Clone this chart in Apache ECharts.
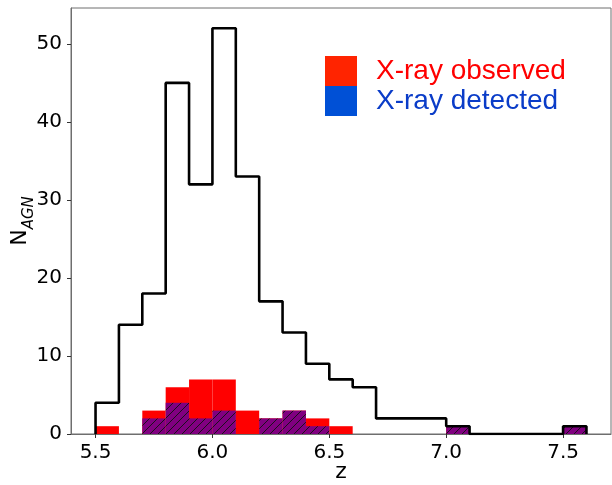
<!DOCTYPE html>
<html>
<head>
<meta charset="utf-8">
<script src="https://cdn.jsdelivr.net/npm/echarts@6/dist/echarts.min.js"></script>
<style>
  html, body { margin: 0; padding: 0; background: #fff; }
  #chart { width: 612px; height: 485px; }
</style>
</head>
<body>
<div id="chart"></div>
<script>
// left bin edges, bin width 0.1
const binEdges = [5.5, 5.6, 5.7, 5.8, 5.9, 6.0, 6.1, 6.2, 6.3, 6.4, 6.5, 6.6, 6.7, 6.8, 6.9, 7.0, 7.1, 7.2, 7.3, 7.4, 7.5];
const binWidth = 0.1;
const allCounts      = [4, 14, 18, 45, 32, 52, 33, 17, 13, 9, 7, 6, 2, 2, 2, 1, 0, 0, 0, 0, 1];
const observedCounts = [1, 0, 3, 6, 7, 7, 3, 2, 3, 2, 1, 0, 0, 0, 0, 1, 0, 0, 0, 0, 1];
const detectedCounts = [0, 0, 2, 4, 2, 3, 0, 2, 3, 1, 0, 0, 0, 0, 0, 1, 0, 0, 0, 0, 1];
const xTicks = [5.5, 6.0, 6.5, 7.0, 7.5];

const fontFam = 'DejaVu Sans';

// hatch "//" tile
function makeHatch() {
  const s = 8;
  const c = document.createElement('canvas');
  c.width = s; c.height = s;
  const ctx = c.getContext('2d');
  ctx.fillStyle = '#800080';
  ctx.fillRect(0, 0, s, s);
  ctx.strokeStyle = '#111';
  ctx.lineWidth = 0.9;
  for (let k = -s; k <= s; k += s) {
    ctx.beginPath();
    ctx.moveTo(k, s);
    ctx.lineTo(k + s, 0);
    ctx.stroke();
  }
  return { image: c, repeat: 'repeat' };
}
const hatch = makeHatch();

function binRenderer(fill) {
  return function (params, api) {
    const x0 = api.value(0);
    const h = api.value(1);
    if (!h) return;
    const p0 = api.coord([x0, h]);
    const p1 = api.coord([x0 + binWidth, 0]);
    return {
      type: 'rect',
      shape: { x: p0[0], y: p0[1], width: p1[0] - p0[0], height: p1[1] - p0[1] },
      style: { fill: fill }
    };
  };
}

const stepData = [[binEdges[0], 0]];
binEdges.forEach((x, i) => stepData.push([x, allCounts[i]]));
stepData.push([binEdges[binEdges.length - 1] + binWidth, 0]);

const chart = echarts.init(document.getElementById('chart'));
const option = {
  animation: false,
  grid: {
    left: 71, top: 8, right: 1, bottom: 51,
    containLabel: false,
    outerBoundsMode: 'none',
    show: true, borderColor: '#6e6e6e', borderWidth: 1
  },
  legend: {
    orient: 'vertical',
    left: 325, top: 56,
    padding: 0,
    itemWidth: 32, itemHeight: 30, itemGap: 0,
    selectedMode: false,
    textStyle: { fontFamily: 'Liberation Sans', fontSize: 28, padding: [3, 0, 0, 14] },
    data: [
      { name: 'X-ray observed', icon: 'rect', itemStyle: { color: '#ff2400' }, textStyle: { color: '#ff0000' } },
      { name: 'X-ray detected', icon: 'rect', itemStyle: { color: '#0050d6' }, textStyle: { color: '#0a3cc8' } }
    ]
  },
  xAxis: {
    type: 'value',
    min: 5.395, max: 7.705,
    name: 'z',
    nameLocation: 'middle',
    nameGap: 27,
    nameMoveOverlap: false,
    nameTextStyle: { fontFamily: fontFam, fontSize: 22, color: '#000' },
    axisLine: { show: true, lineStyle: { color: '#6e6e6e', width: 1 } },
    axisTick: { show: true, length: 4, customValues: xTicks, lineStyle: { color: '#333' } },
    axisLabel: {
      customValues: xTicks, margin: 9,
      fontFamily: fontFam, fontSize: 20, color: '#000',
      formatter: v => v.toFixed(1)
    },
    splitLine: { show: false }
  },
  yAxis: {
    type: 'value',
    min: 0, max: 54.6, interval: 10,
    name: '{n|N}{s|AGN}',
    nameLocation: 'middle',
    nameRotate: 90,
    nameGap: 34,
    nameMoveOverlap: false,
    nameTextStyle: {
      color: '#000',
      rich: {
        n: { fontFamily: fontFam, fontSize: 22, color: '#000', lineHeight: 28, verticalAlign: 'top' },
        s: { fontFamily: fontFam, fontSize: 15, fontStyle: 'italic', color: '#000', lineHeight: 28, verticalAlign: 'bottom' }
      }
    },
    axisLine: { show: true, lineStyle: { color: '#6e6e6e', width: 1 } },
    axisTick: { show: true, length: 4, lineStyle: { color: '#333' } },
    axisLabel: {
      margin: 9, fontFamily: fontFam, fontSize: 20, color: '#000',
      showMaxLabel: false
    },
    splitLine: { show: false }
  },
  series: [
    {
      name: 'X-ray observed',
      type: 'custom',
      renderItem: binRenderer('#ff0000'),
      encode: { x: 0, y: 1 },
      data: binEdges.map((x, i) => [x, observedCounts[i]]),
      z: 2
    },
    {
      name: 'X-ray detected',
      type: 'custom',
      renderItem: binRenderer(hatch),
      encode: { x: 0, y: 1 },
      data: binEdges.map((x, i) => [x, detectedCounts[i]]),
      z: 3
    },
    {
      name: 'all',
      type: 'line',
      step: 'end',
      symbol: 'none',
      data: stepData,
      lineStyle: { color: '#000', width: 2.6 },
      z: 4
    }
  ]
};
chart.setOption(option);
</script>
</body>
</html>
